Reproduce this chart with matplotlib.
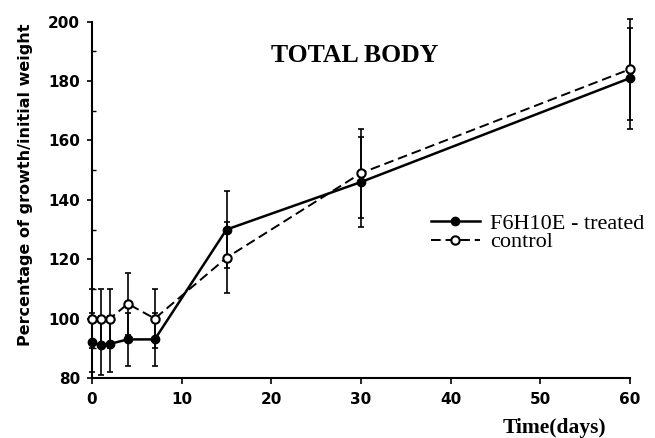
import matplotlib
matplotlib.use("Agg")
import matplotlib.pyplot as plt
from matplotlib.ticker import MultipleLocator

# data
days = [0, 1, 2, 4, 7, 15, 30, 60]
treated = [92, 91, 91.5, 93, 93, 130, 146, 181]
treated_err = [10, 10, 9.5, 9, 9, 13, 15, 17]
control = [100, 100, 100, 105, 100, 120.5, 149, 184]
control_err = [10, 10, 10, 10.5, 10, 12, 15, 17]

W, H = 655, 438
fig = plt.figure(figsize=(W/100, H/100), dpi=100)
ax = fig.add_axes([92/W, 1-378/H, (630-92)/W, (378-21.7)/H])

#plot error bars
ax.errorbar(days, control, yerr=control_err, linestyle="None", color="black",
            elinewidth=1.2, capsize=2.5, capthick=1.2, clip_on=False)
ax.errorbar(days, treated, yerr=treated_err, linestyle="None", color="black",
            elinewidth=1.2, capsize=2.5, capthick=1.2, clip_on=False)

#plot lines
ax.plot(days, treated, linestyle="-", linewidth=1.8, marker="o", markersize=6,
        color="black", label="F6H10E - treated", clip_on=False, zorder=3)
ax.plot(days, control, linestyle=(0, (5, 2.5)), linewidth=1.4, marker="o", markersize=6,
        markerfacecolor="white", markeredgewidth=1.5, color="black",
        label="control", clip_on=False, zorder=4)

#axes
ax.set_xlim(0, 60)
ax.set_ylim(80, 200)
ax.xaxis.set_major_locator(MultipleLocator(10))
ax.yaxis.set_major_locator(MultipleLocator(20))
ax.yaxis.set_minor_locator(MultipleLocator(10))
ax.spines["top"].set_visible(False)
ax.spines["right"].set_visible(False)
ax.spines["left"].set_linewidth(1.5)
ax.spines["bottom"].set_linewidth(1.5)
ax.tick_params(axis="x", direction="out", length=4, width=1.2, pad=6)
ax.tick_params(axis="y", which="major", direction="out", length=3.6, width=1.2, pad=5)
ax.tick_params(axis="y", which="minor", direction="in", length=3, width=1)
for lab in ax.get_xticklabels() + ax.get_yticklabels():
    lab.set_fontfamily("DejaVu Sans")
    lab.set_fontweight("bold")
    lab.set_fontsize(11)

#labels
fig.text(26/W, 1-185/H, "Percentage of growth/initial weight", rotation=90,
         ha="center", va="center", fontfamily="DejaVu Sans",
         fontweight="bold", fontsize=11.5)
fig.text(554/W, 1-433/H, "Time(days)", ha="center", va="baseline",
         fontfamily="Liberation Serif", fontweight="bold", fontsize=15.5)
fig.text(354.5/W, 1-62/H, "TOTAL BODY", ha="center", va="baseline",
         fontfamily="Liberation Serif", fontweight="bold", fontsize=18.5)

#legend
ax.legend(loc="center left", bbox_to_anchor=(431/W, 1-233/H),
          bbox_transform=fig.transFigure, frameon=False,
          prop={"family": "Liberation Serif", "size": 16},
          handlelength=2.2, handletextpad=0.45, labelspacing=-0.1,
          borderpad=0, borderaxespad=0)

fig.savefig("out.png", dpi=100)
